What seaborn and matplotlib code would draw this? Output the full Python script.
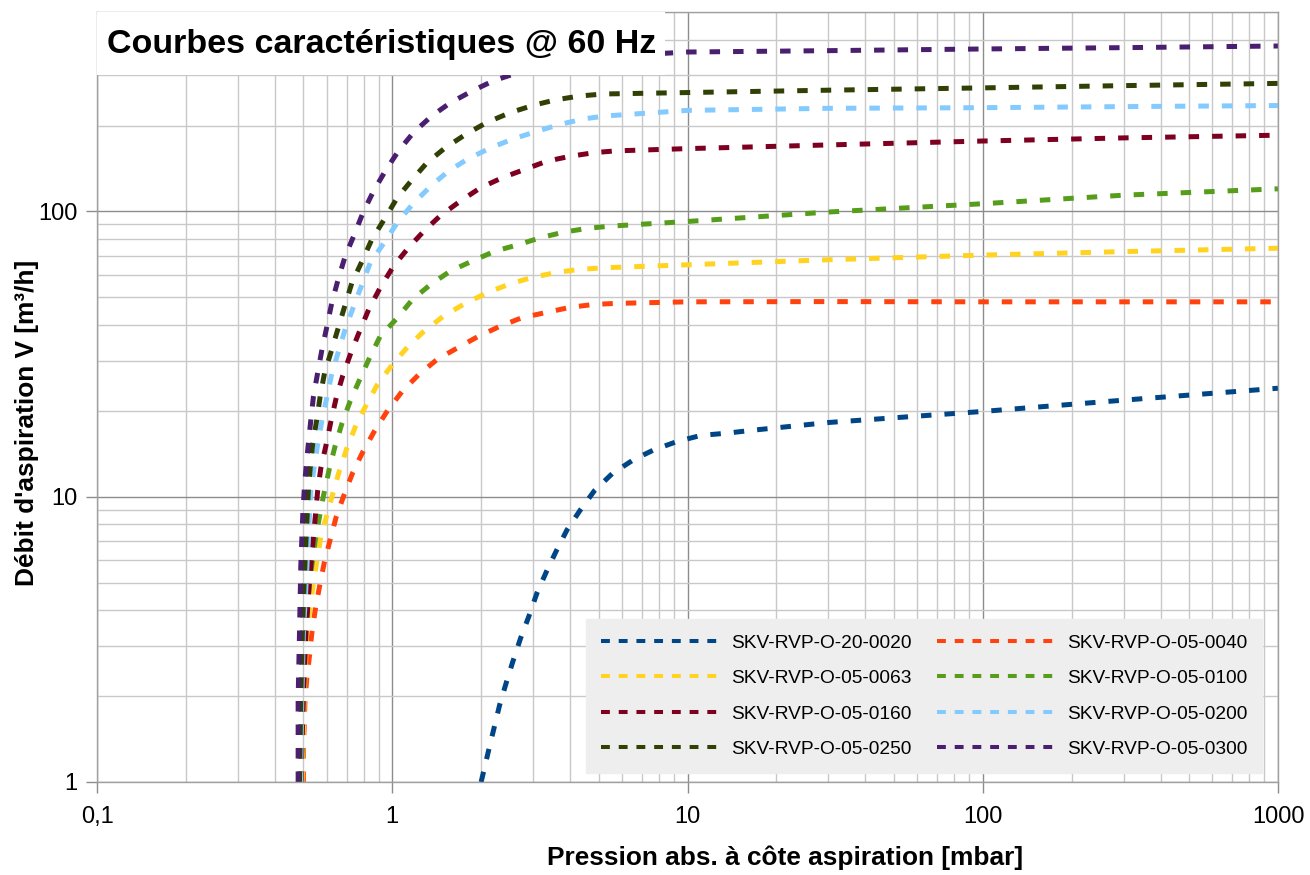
import matplotlib
matplotlib.use("Agg")
import matplotlib.pyplot as plt
import seaborn as sns
from matplotlib.lines import Line2D
from matplotlib.patches import Rectangle
from matplotlib.ticker import FixedLocator, LogLocator, NullFormatter

# --- curves (pressure in mbar, flow in m3/h) ---
x_0020 = [2.0, 2.12, 2.21, 2.31, 2.43, 2.56, 2.72, 2.9, 3.09, 3.33, 3.6, 3.91, 4.34, 4.84,
          5.56, 6.58, 7.7, 9.2, 11.1, 13.6, 16.6, 30, 100, 300, 1000]
y_0020 = [1.0, 1.29, 1.54, 1.86, 2.22, 2.64, 3.19, 3.8, 4.59, 5.47, 6.48, 7.66, 9.0, 10.5,
          12.05, 13.5, 14.6, 15.6, 16.4, 16.7, 17.1, 18.2, 19.9, 21.8, 24.0]

x_0040 = [0.5, 0.5, 0.503, 0.506, 0.513, 0.524, 0.534, 0.548, 0.567, 0.588, 0.616, 0.646, 0.688,
          0.736, 0.796, 0.871, 0.96, 1.08, 1.23, 1.42, 1.66, 1.94, 2.32, 2.75, 3.34, 4.0, 4.81,
          5.7, 10, 30, 100, 300, 1000]
y_0040 = [1.0, 1.28, 1.56, 1.89, 2.28, 2.75, 3.32, 3.99, 4.84, 5.85, 7.06, 8.5, 10.2,
          12.2, 14.4, 17.0, 19.9, 23.4, 26.8, 30.3, 33.2, 36.3, 39.6, 42.4, 44.3, 46.1, 47.2,
          47.6, 48.2, 48.3, 48.2, 48.2, 48.2]

x_0063 = [0.495, 0.503, 0.513, 0.541, 0.573, 0.63, 0.663, 0.702, 0.755, 0.817, 0.89, 1.0, 1.13,
          1.28, 1.49, 1.74, 2.09, 2.48, 2.94, 3.57, 4.28, 5.14, 10, 30, 100, 300, 1000]
y_0063 = [1.0, 1.95, 3.3, 5.0, 7.26, 10.3, 12.4, 14.8, 17.9, 21.0, 24.7, 29.0, 33.6,
          38.0, 42.9, 47.2, 51.8, 55.5, 58.5, 61.0, 62.6, 63.4, 65.0, 67.7, 70.3, 72.3, 74.3]

x_0100 = [0.492, 0.497, 0.506, 0.524, 0.551, 0.584, 0.613, 0.641, 0.676, 0.72, 0.775, 0.838,
          0.91, 1.04, 1.17, 1.35, 1.57, 1.86, 2.23, 2.68, 3.18, 3.81, 4.57, 5.48, 10, 30, 100,
          300, 1000]
y_0100 = [1.0, 1.95, 3.3, 5.0, 7.26, 10.0, 12.6, 15.1, 18.1, 21.6, 25.7, 30.7,
          36.5, 42.3, 49.1, 55.5, 61.7, 66.9, 72.6, 76.5, 80.9, 84.6, 87.2, 88.8, 92.2, 99.5, 106.4,
          114, 120]

x_0160 = [0.49, 0.5, 0.51, 0.524, 0.541, 0.559, 0.573, 0.597, 0.62, 0.646, 0.68, 0.724, 0.775,
          0.832, 0.91, 1.01, 1.135, 1.28, 1.45, 1.7, 1.99, 2.35, 2.79, 3.34, 4.0, 4.81, 5.7, 10,
          30, 100, 300, 1000]
y_0160 = [1.0, 1.95, 3.3, 5.0, 7.26, 10.5, 12.6, 15.2, 18.4, 22.2, 26.6, 31.9, 38.0,
          45.3, 54.0, 64.3, 74.6, 85.3, 96.3, 108.7, 121, 131, 140, 150, 156, 160.6, 163, 166,
          171, 176.5, 181, 185]

x_0200 = [0.489, 0.494, 0.5, 0.511, 0.52, 0.53, 0.544, 0.559, 0.578, 0.601, 0.624, 0.658, 0.693,
          0.74, 0.842, 0.947, 1.04, 1.17, 1.35, 1.55, 1.79, 2.15, 2.55, 3.09, 3.71, 4.45, 5.27,
          10, 30, 100, 300, 1000]
y_0200 = [1.0, 1.95, 3.3, 5.0, 7.26, 10.5, 12.7, 15.3, 18.5, 22.4, 27.0, 32.4, 38.7,
          46.5, 66, 78.7, 91.3, 105.8, 122.7, 138.5, 152, 167, 179, 191, 202, 211, 216,
          226, 229.8, 231, 233, 235]

x_0250 = [0.485, 0.49, 0.496, 0.503, 0.511, 0.52, 0.528, 0.538, 0.555, 0.57, 0.59, 0.624, 0.658,
          0.693, 0.73, 0.79, 0.853, 0.947, 1.04, 1.17, 1.31, 1.51, 1.77, 2.09, 2.51, 3.01, 3.57,
          4.33, 5.2, 10, 30, 100, 300, 1000]
y_0250 = [1.0, 1.95, 3.3, 5.0, 7.26, 10.6, 12.8, 15.4, 18.6, 22.5, 27.2, 32.8, 39.4,
          47.2, 56.2, 66.9, 79.8, 95, 111.7, 129.5, 148, 167, 186, 205, 222, 235.6, 246,
          254, 258, 261, 266, 271, 276, 281]

x_0300 = [0.48, 0.48, 0.485, 0.49, 0.498, 0.5035, 0.511, 0.52, 0.53, 0.541, 0.559, 0.578, 0.601,
          0.624, 0.658, 0.693, 0.74, 0.796, 0.864, 0.947, 1.05, 1.18, 1.36, 1.57, 1.86, 2.2, 2.58,
          3.2, 4.2, 5.5, 7.5, 10, 30, 100, 300, 1000]
y_0300 = [1.0, 1.95, 3.3, 5.7, 8.8, 10.6, 12.8, 15.4, 18.6, 22.5, 27.2, 32.8, 39.6,
          47.8, 58.5, 69.7, 81.9, 99, 117.8, 138.5, 163, 189, 216, 240, 264, 287, 303,
          320, 337, 348, 356, 362, 366, 371, 375, 380]

names = ["SKV-RVP-O-20-0020", "SKV-RVP-O-05-0040", "SKV-RVP-O-05-0063", "SKV-RVP-O-05-0100",
         "SKV-RVP-O-05-0160", "SKV-RVP-O-05-0200", "SKV-RVP-O-05-0250", "SKV-RVP-O-05-0300"]
colors = ["#004586", "#ff420e", "#ffd320", "#579d1c", "#7e0021", "#83caff", "#314004", "#4b1f6f"]
xs_all = [x_0020, x_0040, x_0063, x_0100, x_0160, x_0200, x_0250, x_0300]
ys_all = [y_0020, y_0040, y_0063, y_0100, y_0160, y_0200, y_0250, y_0300]

x_ticks = [0.1, 1, 10, 100, 1000]
x_ticklabels = ["0,1", "1", "10", "100", "1000"]
y_ticks = [1, 10, 100]
y_ticklabels = ["1", "10", "100"]

sns.set_theme(style="whitegrid")
plt.rcParams["font.family"] = ["Liberation Sans", "DejaVu Sans"]
plt.rcParams["text.color"] = "black"

W, H = 1310, 875
fig = plt.figure(figsize=(W / 100, H / 100), dpi=100)
ax = fig.add_axes([97 / W, 1 - 782 / H, (1278 - 97) / W, (782 - 12) / H])

for xs, ys, c in zip(xs_all, ys_all, colors):
    sns.lineplot(x=xs, y=ys, ax=ax, color=c, linewidth=3.6, estimator=None, sort=False,
                 linestyle=(0, (2.1, 2.6)), dash_capstyle="butt", legend=False)

ax.set_xscale("log")
ax.set_yscale("log")
ax.set_xlim(0.1, 1000)
ax.set_ylim(1, 500)

ax.xaxis.set_major_locator(FixedLocator(x_ticks))
ax.set_xticklabels(x_ticklabels)
ax.yaxis.set_major_locator(FixedLocator(y_ticks))
ax.set_yticklabels(y_ticklabels)
ax.xaxis.set_minor_locator(LogLocator(base=10, subs=range(2, 10), numticks=20))
ax.yaxis.set_minor_locator(LogLocator(base=10, subs=range(2, 10), numticks=20))
ax.xaxis.set_minor_formatter(NullFormatter())
ax.yaxis.set_minor_formatter(NullFormatter())

ax.set_axisbelow(True)
ax.grid(which="major", color="#8c8c8c", linewidth=1.0)
ax.grid(which="minor", color="#c8c8c8", linewidth=1.0)
ax.tick_params(which="major", direction="out", length=8, width=1, color="#8c8c8c",
               labelsize=17, pad=6, bottom=True, left=True, labelcolor="black")
ax.tick_params(axis="x", which="major", pad=9)
ax.tick_params(which="minor", length=0)
for sp in ax.spines.values():
    sp.set_color("#a0a0a0")
    sp.set_linewidth(1.0)

ax.set_xlabel("Pression abs. à côte aspiration [mbar]", fontsize=18.9, fontweight="bold",
              color="black")
ax.set_ylabel("Débit d'aspiration V [m³/h]", fontsize=18.9, fontweight="bold", color="black")
ax.xaxis.set_label_coords(0.5825, -0.083)
ax.yaxis.set_label_coords(-0.049, 0.466)

# white title box in the top-left corner of the plot area
y0 = (782 - 75) / 770
ax.add_patch(Rectangle((0, y0), (665 - 97) / 1181, 1 - y0, transform=ax.transAxes,
                       facecolor="white", edgecolor="none", zorder=5))
ax.text(10 / 1181, (782 - 44) / 770, "Courbes caractéristiques @ 60 Hz", transform=ax.transAxes,
        fontsize=24.5, fontweight="bold", color="black", va="center", ha="left", zorder=6)

# legend, 2 columns filled row by row like the original
handles = [Line2D([], [], color=c, linewidth=2.9, linestyle=(0, (2.2, 2.2)),
                  dash_capstyle="butt") for c in colors]
order = [0, 2, 4, 6, 1, 3, 5, 7]
leg = ax.legend([handles[i] for i in order], [names[i] for i in order], ncol=2,
                loc="lower right", bbox_to_anchor=((1262 - 97) / 1181, 9 / 770),
                fontsize=13.8, handlelength=6.3, handletextpad=0.48, columnspacing=1.3,
                labelspacing=0.94, borderpad=0.78, borderaxespad=0, frameon=True,
                fancybox=False, facecolor="#eeeeee", edgecolor="#eeeeee", framealpha=1,
                labelcolor="black")
leg.set_zorder(7)

fig.savefig("out.png", dpi=100)
